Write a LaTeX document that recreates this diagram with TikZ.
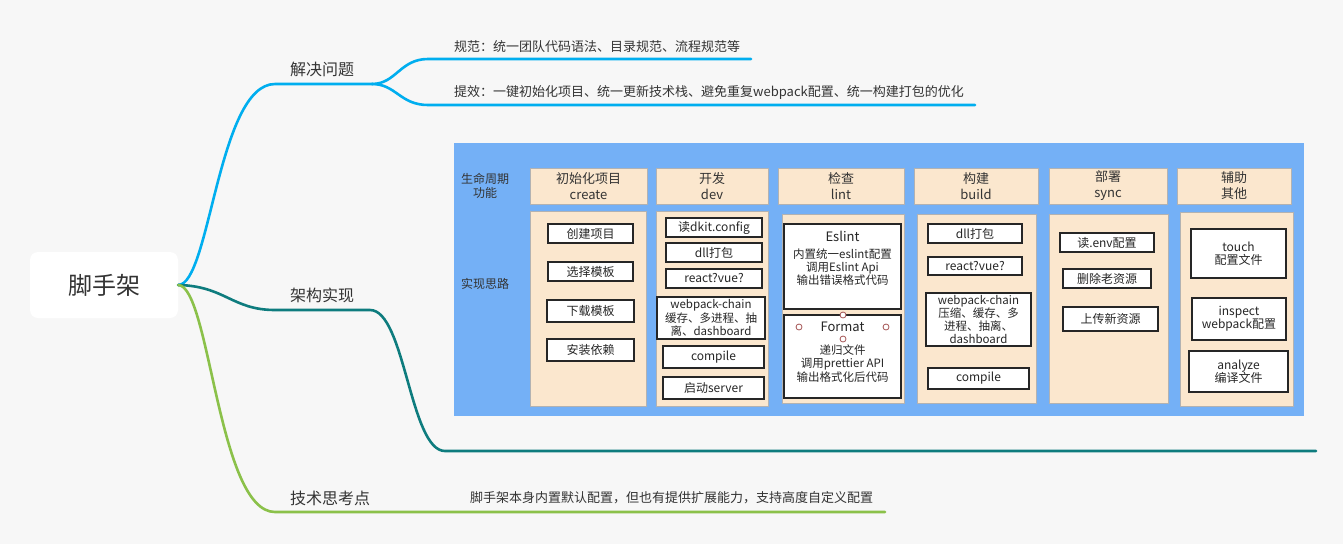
\documentclass[tikz,border=0pt]{standalone}
\usepackage{fontspec}
\setmainfont{Noto Sans CJK SC}
\definecolor{bggray}{RGB}{247,247,247}
\definecolor{mapblue}{RGB}{0,174,239}
\definecolor{mapteal}{RGB}{14,124,126}
\definecolor{mapgreen}{RGB}{139,193,74}
\definecolor{panelblue}{RGB}{116,176,246}
\definecolor{beige}{RGB}{251,231,206}
\definecolor{txt}{RGB}{51,51,51}
\definecolor{handlered}{RGB}{165,85,85}

\begin{document}
\begin{tikzpicture}[x=1pt,y=-1pt,
  every node/.style={text=txt,inner sep=0pt,align=center},
  branch/.style={line width=2.6pt,line cap=round},
  maplabel/.style={font=\fontsize{16}{18}\selectfont},
  leaf/.style={anchor=west,font=\fontsize{13}{15}\selectfont},
  head/.style={fill=beige,draw=gray!60,line width=0.8pt,font=\fontsize{13}{16}\selectfont},
  lane/.style={fill=beige,draw=gray!60,line width=0.8pt},
  item/.style={fill=white,draw=black!85,line width=1.3pt,text=black!85,font=\fontsize{12}{13}\selectfont},
  smallitem/.style={item,font=\fontsize{11.5}{13.2}\selectfont},
  boxtext/.style={text=black!85,font=\fontsize{11.5}{13.2}\selectfont},
  handle/.style={draw=handlered,fill=white,line width=0.8pt}]

\useasboundingbox (0,0) rectangle (1343,544);
\fill[bggray] (0,0) rectangle (1343,544);

% mind map
\node (root) at (104,285)[rounded corners=8pt,fill=white,minimum width=148pt,minimum height=66pt,font=\fontsize{24}{28}\selectfont]{脚手架};

\coordinate (solveL) at (275,84);
\coordinate (solveR) at (372,84);
\coordinate (normL) at (428,59);
\coordinate (normR) at (751,59);
\coordinate (effL) at (428,105);
\coordinate (effR) at (975,105);
\coordinate (archL) at (275,310);
\coordinate (archR) at (370,310);
\coordinate (archD) at (445,451);
\coordinate (archE) at (1316,451);
\coordinate (thinkL) at (275,512);
\coordinate (thinkR) at (885,512);

\draw[branch,mapblue] (root.east) .. controls (210,285) and (218,84) .. (solveL) -- (solveR);
\draw[branch,mapblue] (solveR) .. controls (396,84) and (400,59) .. (normL) -- (normR);
\draw[branch,mapblue] (solveR) .. controls (396,84) and (400,105) .. (effL) -- (effR);
\draw[branch,mapteal] (root.east) .. controls (225,286) and (232,310) .. (archL) -- (archR) .. controls (405,310) and (410,451) .. (archD) -- (archE);
\draw[branch,mapgreen] (root.east) .. controls (210,286) and (218,512) .. (thinkL) -- (thinkR);

\node (solve) at (322,69)[maplabel]{解决问题};
\node (arch) at (322,295)[maplabel]{架构实现};
\node (think) at (330,498)[maplabel]{技术思考点};
\node (norm) at (454,47)[leaf]{规范：统一团队代码语法、目录规范、流程规范等};
\node (eff) at (454,92)[leaf]{提效：一键初始化项目、统一更新技术栈、避免重复webpack配置、统一构建打包的优化};
\node (ext) at (470,498)[leaf]{脚手架本身内置默认配置，但也有提供扩展能力，支持高度自定义配置};

% lifecycle panel
\node (panel) at (879,279.5)[fill=panelblue,minimum width=850pt,minimum height=273pt]{};
\node (life) at (485,186)[font=\fontsize{12}{14}\selectfont]{生命周期\\功能};
\node (idea) at (485,284)[font=\fontsize{12}{14}\selectfont]{实现思路};

\node (hcreate) at (588.5,186)[head,minimum width=117pt,minimum height=36pt]{初始化项目\\create};
\node (hdev) at (712,186)[head,minimum width=112pt,minimum height=36pt]{开发\\dev};
\node (hlint) at (841,186)[head,minimum width=126pt,minimum height=36pt]{检查\\lint};
\node (hbuild) at (976,186)[head,minimum width=124pt,minimum height=36pt]{构建\\build};
\node (hsync) at (1108,186)[head,minimum width=118pt,minimum height=36pt]{部署\\sync};
\node (haux) at (1234,186)[head,minimum width=114pt,minimum height=36pt]{辅助\\其他};

\node (bcreate) at (588,308.5)[lane,minimum width=116pt,minimum height=195pt]{};
\node (bdev) at (712,308.5)[lane,minimum width=112pt,minimum height=195pt]{};
\node (blint) at (843,308.5)[lane,minimum width=122pt,minimum height=189pt]{};
\node (bbuild) at (976.5,308.5)[lane,minimum width=119pt,minimum height=189pt]{};
\node (bsync) at (1108.5,308.5)[lane,minimum width=119pt,minimum height=189pt]{};
\node (baux) at (1236.5,309)[lane,minimum width=113pt,minimum height=194pt]{};

% create
\node (newproj) at (590.5,233.5)[item,minimum width=85pt,minimum height=19pt]{创建项目};
\node (pick) at (590.5,271.5)[item,minimum width=85pt,minimum height=19pt]{选择模板};
\node (fetch) at (590.5,311)[item,minimum width=87pt,minimum height=22pt]{下载模板};
\node (install) at (590.5,350)[item,minimum width=87pt,minimum height=22pt]{安装依赖};

% dev
\node (dkit) at (714,227.5)[item,minimum width=96pt,minimum height=19pt]{读dkit.config};
\node (dlldev) at (714,252.5)[item,minimum width=96pt,minimum height=19pt]{dll打包};
\node (rvdev) at (714,278.5)[item,minimum width=96pt,minimum height=19pt]{react?vue?};
\node (chaindev) at (711,318)[smallitem,minimum width=108pt,minimum height=42pt]{webpack-chain\\缓存、多进程、抽\\离、dashboard};
\node (compdev) at (713.5,357)[item,minimum width=101pt,minimum height=22pt]{compile};
\node (server) at (713.5,388)[item,minimum width=101pt,minimum height=22pt]{启动server};

% lint
\node (eslint) at (842.5,266.5)[item,minimum width=117pt,minimum height=85pt]{};
\node (eslinttext) at (842.5,258.5)[boxtext]{{\fontsize{13}{15}\selectfont Eslint}\\[3pt]内置统一eslint配置\\调用Eslint Api\\输出错误格式代码};
\node (format) at (842.5,356.5)[item,minimum width=117pt,minimum height=83pt]{};
\node (formattext) at (842.5,352)[boxtext]{{\fontsize{13}{15}\selectfont Format}\\[10pt]递归文件\\调用prettier API\\输出格式化后代码};
\foreach \p in {(843,315),(799,327),(886,327),(843,339)}
  \draw[handle] \p circle (3pt);

% build
\node (dllbuild) at (975,233.5)[item,minimum width=94pt,minimum height=19pt]{dll打包};
\node (rvbuild) at (975,266)[item,minimum width=94pt,minimum height=18pt]{react?vue?};
\node (chainbuild) at (978.5,319.5)[smallitem,minimum width=105pt,minimum height=53pt]{webpack-chain\\压缩、缓存、多\\进程、抽离、\\dashboard};
\node (compbuild) at (978.5,378.5)[item,minimum width=101pt,minimum height=21pt]{compile};

% sync
\node (env) at (1107,242.5)[item,minimum width=94pt,minimum height=19pt]{读.env配置};
\node (clean) at (1107,278.5)[item,minimum width=88pt,minimum height=19pt]{删除老资源};
\node (upload) at (1110.5,319)[item,minimum width=95pt,minimum height=24pt]{上传新资源};

% aux
\node (touch) at (1238.5,253.5)[item,minimum width=95pt,minimum height=49pt]{touch\\配置文件};
\node (inspect) at (1239,319)[item,minimum width=94pt,minimum height=42pt]{inspect\\webpack配置};
\node (analyze) at (1238.5,371.5)[item,minimum width=99pt,minimum height=41pt]{analyze\\编译文件};

\end{tikzpicture}
\end{document}
